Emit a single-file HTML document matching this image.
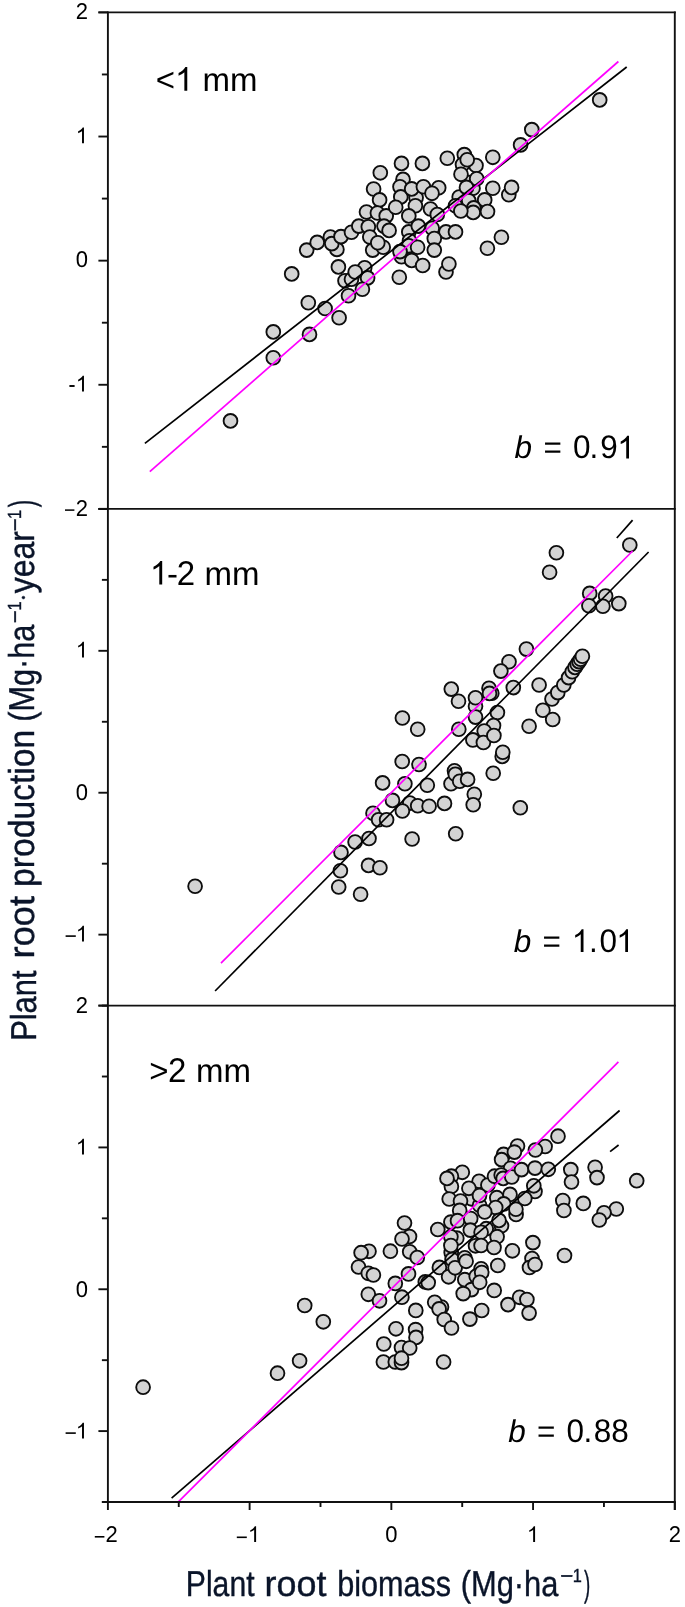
<!DOCTYPE html><html><head><meta charset="utf-8"><title>Plant root production vs biomass</title><style>html,body{margin:0;padding:0;background:#fff;}svg{display:block}text{font-family:"Liberation Sans",sans-serif}</style></head><body>
<svg style="will-change:transform" width="685" height="1607" viewBox="0 0 685 1607" text-rendering="geometricPrecision">
<g fill="#d3d3d3" stroke="#0d0d0d" stroke-width="1.85"><circle cx="459.2" cy="197.0" r="6.9"/><circle cx="473.0" cy="188.2" r="6.9"/><circle cx="469.5" cy="182.5" r="6.9"/><circle cx="599.7" cy="99.9" r="6.9"/><circle cx="531.8" cy="129.6" r="6.9"/><circle cx="520.6" cy="144.9" r="6.9"/><circle cx="492.8" cy="157.3" r="6.9"/><circle cx="447.3" cy="158.2" r="6.9"/><circle cx="464.3" cy="154.6" r="6.9"/><circle cx="476.0" cy="165.5" r="6.9"/><circle cx="462.5" cy="164.5" r="6.9"/><circle cx="467.2" cy="159.7" r="6.9"/><circle cx="461.0" cy="174.3" r="6.9"/><circle cx="476.7" cy="178.7" r="6.9"/><circle cx="438.7" cy="187.8" r="6.9"/><circle cx="466.5" cy="187.4" r="6.9"/><circle cx="492.8" cy="188.2" r="6.9"/><circle cx="508.8" cy="194.7" r="6.9"/><circle cx="511.6" cy="187.4" r="6.9"/><circle cx="468.7" cy="200.6" r="6.9"/><circle cx="484.7" cy="199.9" r="6.9"/><circle cx="455.5" cy="205.7" r="6.9"/><circle cx="487.5" cy="211.5" r="6.9"/><circle cx="473.8" cy="207.9" r="6.9"/><circle cx="430.5" cy="209.0" r="6.9"/><circle cx="380.3" cy="172.8" r="6.9"/><circle cx="401.5" cy="163.4" r="6.9"/><circle cx="422.4" cy="163.4" r="6.9"/><circle cx="373.6" cy="189.0" r="6.9"/><circle cx="379.6" cy="199.9" r="6.9"/><circle cx="366.5" cy="212.0" r="6.9"/><circle cx="377.4" cy="213.0" r="6.9"/><circle cx="386.2" cy="215.9" r="6.9"/><circle cx="403.0" cy="179.4" r="6.9"/><circle cx="400.0" cy="186.7" r="6.9"/><circle cx="400.8" cy="196.9" r="6.9"/><circle cx="416.1" cy="197.7" r="6.9"/><circle cx="411.7" cy="188.9" r="6.9"/><circle cx="395.7" cy="207.2" r="6.9"/><circle cx="415.4" cy="205.7" r="6.9"/><circle cx="423.4" cy="186.7" r="6.9"/><circle cx="432.0" cy="193.3" r="6.9"/><circle cx="437.3" cy="214.5" r="6.9"/><circle cx="408.8" cy="215.9" r="6.9"/><circle cx="291.7" cy="273.9" r="6.9"/><circle cx="306.7" cy="250.1" r="6.9"/><circle cx="317.2" cy="242.4" r="6.9"/><circle cx="330.4" cy="237.0" r="6.9"/><circle cx="336.9" cy="249.4" r="6.9"/><circle cx="331.8" cy="243.6" r="6.9"/><circle cx="341.0" cy="236.6" r="6.9"/><circle cx="351.5" cy="232.2" r="6.9"/><circle cx="358.8" cy="226.1" r="6.9"/><circle cx="368.3" cy="226.8" r="6.9"/><circle cx="369.8" cy="237.0" r="6.9"/><circle cx="372.7" cy="250.1" r="6.9"/><circle cx="338.4" cy="266.9" r="6.9"/><circle cx="364.7" cy="267.7" r="6.9"/><circle cx="367.6" cy="277.9" r="6.9"/><circle cx="345.0" cy="280.8" r="6.9"/><circle cx="351.5" cy="279.3" r="6.9"/><circle cx="355.2" cy="272.0" r="6.9"/><circle cx="362.4" cy="289.3" r="6.9"/><circle cx="384.0" cy="226.1" r="6.9"/><circle cx="389.1" cy="230.4" r="6.9"/><circle cx="383.2" cy="247.2" r="6.9"/><circle cx="377.8" cy="242.8" r="6.9"/><circle cx="408.8" cy="231.9" r="6.9"/><circle cx="418.3" cy="226.1" r="6.9"/><circle cx="432.2" cy="228.2" r="6.9"/><circle cx="446.0" cy="231.9" r="6.9"/><circle cx="455.5" cy="231.9" r="6.9"/><circle cx="434.3" cy="238.5" r="6.9"/><circle cx="434.3" cy="250.1" r="6.9"/><circle cx="409.5" cy="240.7" r="6.9"/><circle cx="408.8" cy="245.8" r="6.9"/><circle cx="417.6" cy="247.2" r="6.9"/><circle cx="401.5" cy="256.7" r="6.9"/><circle cx="400.0" cy="251.6" r="6.9"/><circle cx="411.7" cy="260.4" r="6.9"/><circle cx="422.7" cy="265.5" r="6.9"/><circle cx="446.0" cy="272.0" r="6.9"/><circle cx="448.9" cy="264.0" r="6.9"/><circle cx="399.3" cy="277.2" r="6.9"/><circle cx="473.2" cy="212.4" r="6.9"/><circle cx="460.8" cy="211.0" r="6.9"/><circle cx="501.4" cy="237.2" r="6.9"/><circle cx="487.4" cy="248.2" r="6.9"/><circle cx="230.5" cy="420.9" r="6.9"/><circle cx="273.3" cy="331.9" r="6.9"/><circle cx="273.3" cy="357.8" r="6.9"/><circle cx="308.3" cy="302.7" r="6.9"/><circle cx="309.5" cy="334.4" r="6.9"/><circle cx="325.1" cy="308.5" r="6.9"/><circle cx="339.1" cy="317.8" r="6.9"/><circle cx="348.5" cy="295.7" r="6.9"/><circle cx="556.4" cy="552.8" r="6.9"/><circle cx="549.6" cy="572.2" r="6.9"/><circle cx="629.8" cy="545.0" r="6.9"/><circle cx="589.7" cy="593.4" r="6.9"/><circle cx="605.6" cy="596.0" r="6.9"/><circle cx="588.9" cy="605.7" r="6.9"/><circle cx="602.9" cy="606.2" r="6.9"/><circle cx="618.8" cy="603.6" r="6.9"/><circle cx="526.4" cy="649.1" r="6.9"/><circle cx="509.0" cy="661.7" r="6.9"/><circle cx="500.9" cy="671.1" r="6.9"/><circle cx="491.8" cy="693.2" r="6.9"/><circle cx="513.3" cy="687.6" r="6.9"/><circle cx="539.1" cy="685.0" r="6.9"/><circle cx="497.4" cy="712.5" r="6.9"/><circle cx="493.5" cy="725.6" r="6.9"/><circle cx="529.1" cy="726.2" r="6.9"/><circle cx="542.9" cy="710.2" r="6.9"/><circle cx="552.7" cy="719.5" r="6.9"/><circle cx="552.0" cy="699.0" r="6.9"/><circle cx="557.8" cy="692.6" r="6.9"/><circle cx="563.8" cy="685.0" r="6.9"/><circle cx="568.6" cy="677.6" r="6.9"/><circle cx="572.2" cy="671.8" r="6.9"/><circle cx="575.0" cy="667.4" r="6.9"/><circle cx="577.2" cy="664.2" r="6.9"/><circle cx="579.0" cy="661.6" r="6.9"/><circle cx="580.6" cy="659.2" r="6.9"/><circle cx="582.4" cy="656.2" r="6.9"/><circle cx="402.4" cy="718.0" r="6.9"/><circle cx="417.7" cy="729.3" r="6.9"/><circle cx="451.3" cy="689.1" r="6.9"/><circle cx="458.5" cy="701.3" r="6.9"/><circle cx="475.5" cy="706.2" r="6.9"/><circle cx="475.5" cy="697.8" r="6.9"/><circle cx="475.5" cy="717.1" r="6.9"/><circle cx="489.0" cy="688.2" r="6.9"/><circle cx="489.5" cy="693.4" r="6.9"/><circle cx="458.8" cy="729.3" r="6.9"/><circle cx="472.9" cy="739.9" r="6.9"/><circle cx="484.2" cy="731.1" r="6.9"/><circle cx="483.4" cy="742.5" r="6.9"/><circle cx="493.9" cy="735.5" r="6.9"/><circle cx="502.2" cy="756.4" r="6.9"/><circle cx="502.8" cy="752.3" r="6.9"/><circle cx="402.2" cy="761.5" r="6.9"/><circle cx="419.0" cy="764.5" r="6.9"/><circle cx="382.6" cy="782.9" r="6.9"/><circle cx="404.9" cy="783.8" r="6.9"/><circle cx="427.3" cy="785.2" r="6.9"/><circle cx="451.0" cy="783.8" r="6.9"/><circle cx="454.5" cy="770.7" r="6.9"/><circle cx="455.3" cy="774.2" r="6.9"/><circle cx="459.7" cy="781.2" r="6.9"/><circle cx="467.6" cy="779.4" r="6.9"/><circle cx="474.3" cy="794.3" r="6.9"/><circle cx="473.2" cy="804.8" r="6.9"/><circle cx="493.2" cy="773.3" r="6.9"/><circle cx="520.3" cy="807.7" r="6.9"/><circle cx="392.5" cy="800.4" r="6.9"/><circle cx="409.8" cy="803.1" r="6.9"/><circle cx="417.7" cy="805.7" r="6.9"/><circle cx="429.1" cy="806.2" r="6.9"/><circle cx="444.5" cy="803.4" r="6.9"/><circle cx="402.4" cy="811.0" r="6.9"/><circle cx="412.1" cy="839.0" r="6.9"/><circle cx="455.7" cy="833.7" r="6.9"/><circle cx="373.0" cy="813.2" r="6.9"/><circle cx="378.6" cy="819.7" r="6.9"/><circle cx="386.6" cy="819.7" r="6.9"/><circle cx="369.0" cy="838.5" r="6.9"/><circle cx="355.1" cy="842.0" r="6.9"/><circle cx="341.0" cy="852.4" r="6.9"/><circle cx="340.4" cy="870.7" r="6.9"/><circle cx="368.5" cy="865.4" r="6.9"/><circle cx="379.9" cy="867.7" r="6.9"/><circle cx="338.7" cy="887.0" r="6.9"/><circle cx="360.6" cy="894.3" r="6.9"/><circle cx="195.1" cy="886.3" r="6.9"/><circle cx="441.5" cy="1307.0" r="6.9"/><circle cx="471.4" cy="1198.8" r="6.9"/><circle cx="479.6" cy="1205.3" r="6.9"/><circle cx="451.2" cy="1252.5" r="6.9"/><circle cx="481.3" cy="1188.6" r="6.9"/><circle cx="462.3" cy="1172.3" r="6.9"/><circle cx="451.4" cy="1176.2" r="6.9"/><circle cx="451.4" cy="1186.4" r="6.9"/><circle cx="447.0" cy="1178.4" r="6.9"/><circle cx="479.1" cy="1181.3" r="6.9"/><circle cx="468.9" cy="1188.3" r="6.9"/><circle cx="487.9" cy="1185.0" r="6.9"/><circle cx="494.5" cy="1176.2" r="6.9"/><circle cx="503.6" cy="1154.4" r="6.9"/><circle cx="501.6" cy="1159.6" r="6.9"/><circle cx="517.5" cy="1146.0" r="6.9"/><circle cx="514.4" cy="1152.1" r="6.9"/><circle cx="510.6" cy="1168.3" r="6.9"/><circle cx="501.2" cy="1175.0" r="6.9"/><circle cx="503.2" cy="1178.4" r="6.9"/><circle cx="511.8" cy="1177.0" r="6.9"/><circle cx="521.5" cy="1169.6" r="6.9"/><circle cx="449.2" cy="1199.0" r="6.9"/><circle cx="460.5" cy="1201.0" r="6.9"/><circle cx="479.5" cy="1195.5" r="6.9"/><circle cx="496.8" cy="1197.7" r="6.9"/><circle cx="510.0" cy="1194.4" r="6.9"/><circle cx="558.0" cy="1136.2" r="6.9"/><circle cx="545.1" cy="1146.5" r="6.9"/><circle cx="535.4" cy="1150.0" r="6.9"/><circle cx="535.0" cy="1168.1" r="6.9"/><circle cx="548.3" cy="1169.3" r="6.9"/><circle cx="535.0" cy="1191.5" r="6.9"/><circle cx="533.8" cy="1185.8" r="6.9"/><circle cx="570.8" cy="1169.6" r="6.9"/><circle cx="571.5" cy="1182.0" r="6.9"/><circle cx="595.1" cy="1167.3" r="6.9"/><circle cx="597.0" cy="1177.6" r="6.9"/><circle cx="562.8" cy="1200.5" r="6.9"/><circle cx="583.3" cy="1203.4" r="6.9"/><circle cx="524.8" cy="1198.5" r="6.9"/><circle cx="636.7" cy="1180.7" r="6.9"/><circle cx="616.3" cy="1209.0" r="6.9"/><circle cx="604.0" cy="1212.8" r="6.9"/><circle cx="599.3" cy="1220.0" r="6.9"/><circle cx="404.5" cy="1223.0" r="6.9"/><circle cx="409.5" cy="1236.5" r="6.9"/><circle cx="402.0" cy="1239.0" r="6.9"/><circle cx="409.7" cy="1251.8" r="6.9"/><circle cx="417.3" cy="1257.5" r="6.9"/><circle cx="390.4" cy="1251.2" r="6.9"/><circle cx="369.0" cy="1251.3" r="6.9"/><circle cx="361.1" cy="1252.7" r="6.9"/><circle cx="437.8" cy="1229.5" r="6.9"/><circle cx="459.7" cy="1210.4" r="6.9"/><circle cx="450.9" cy="1222.1" r="6.9"/><circle cx="457.5" cy="1220.7" r="6.9"/><circle cx="470.7" cy="1218.5" r="6.9"/><circle cx="470.3" cy="1230.1" r="6.9"/><circle cx="456.8" cy="1238.2" r="6.9"/><circle cx="450.9" cy="1236.7" r="6.9"/><circle cx="450.9" cy="1245.5" r="6.9"/><circle cx="452.1" cy="1259.5" r="6.9"/><circle cx="464.8" cy="1257.8" r="6.9"/><circle cx="439.4" cy="1267.4" r="6.9"/><circle cx="408.5" cy="1273.9" r="6.9"/><circle cx="475.5" cy="1245.8" r="6.9"/><circle cx="358.5" cy="1267.0" r="6.9"/><circle cx="368.3" cy="1273.3" r="6.9"/><circle cx="373.4" cy="1275.0" r="6.9"/><circle cx="368.3" cy="1294.3" r="6.9"/><circle cx="379.5" cy="1300.8" r="6.9"/><circle cx="304.7" cy="1305.5" r="6.9"/><circle cx="323.3" cy="1321.8" r="6.9"/><circle cx="503.7" cy="1203.9" r="6.9"/><circle cx="495.7" cy="1207.5" r="6.9"/><circle cx="484.7" cy="1211.9" r="6.9"/><circle cx="501.5" cy="1225.8" r="6.9"/><circle cx="499.0" cy="1220.4" r="6.9"/><circle cx="486.2" cy="1228.7" r="6.9"/><circle cx="481.1" cy="1232.3" r="6.9"/><circle cx="497.1" cy="1236.7" r="6.9"/><circle cx="481.1" cy="1245.5" r="6.9"/><circle cx="494.0" cy="1247.5" r="6.9"/><circle cx="512.4" cy="1250.8" r="6.9"/><circle cx="532.9" cy="1242.6" r="6.9"/><circle cx="532.0" cy="1258.5" r="6.9"/><circle cx="529.5" cy="1267.5" r="6.9"/><circle cx="497.8" cy="1265.5" r="6.9"/><circle cx="481.1" cy="1268.8" r="6.9"/><circle cx="563.9" cy="1210.5" r="6.9"/><circle cx="564.5" cy="1255.5" r="6.9"/><circle cx="395.3" cy="1283.4" r="6.9"/><circle cx="401.9" cy="1297.2" r="6.9"/><circle cx="415.8" cy="1310.4" r="6.9"/><circle cx="425.3" cy="1281.9" r="6.9"/><circle cx="428.2" cy="1282.6" r="6.9"/><circle cx="448.6" cy="1276.8" r="6.9"/><circle cx="455.1" cy="1267.8" r="6.9"/><circle cx="464.8" cy="1279.7" r="6.9"/><circle cx="471.5" cy="1289.6" r="6.9"/><circle cx="463.2" cy="1293.6" r="6.9"/><circle cx="476.2" cy="1276.2" r="6.9"/><circle cx="434.7" cy="1302.3" r="6.9"/><circle cx="439.1" cy="1308.9" r="6.9"/><circle cx="444.2" cy="1319.5" r="6.9"/><circle cx="451.5" cy="1328.0" r="6.9"/><circle cx="469.9" cy="1319.1" r="6.9"/><circle cx="396.0" cy="1328.8" r="6.9"/><circle cx="415.6" cy="1329.6" r="6.9"/><circle cx="416.0" cy="1337.4" r="6.9"/><circle cx="481.7" cy="1272.5" r="6.9"/><circle cx="494.2" cy="1290.4" r="6.9"/><circle cx="519.6" cy="1297.3" r="6.9"/><circle cx="526.9" cy="1299.5" r="6.9"/><circle cx="508.0" cy="1304.6" r="6.9"/><circle cx="529.1" cy="1313.1" r="6.9"/><circle cx="481.7" cy="1310.5" r="6.9"/><circle cx="299.6" cy="1360.8" r="6.9"/><circle cx="277.5" cy="1373.2" r="6.9"/><circle cx="383.8" cy="1344.0" r="6.9"/><circle cx="401.5" cy="1347.5" r="6.9"/><circle cx="409.7" cy="1348.0" r="6.9"/><circle cx="383.4" cy="1362.0" r="6.9"/><circle cx="395.3" cy="1362.0" r="6.9"/><circle cx="401.5" cy="1362.6" r="6.9"/><circle cx="401.5" cy="1358.2" r="6.9"/><circle cx="443.6" cy="1362.0" r="6.9"/><circle cx="143.1" cy="1387.2" r="6.9"/><circle cx="466.1" cy="1261.3" r="6.9"/><circle cx="479.7" cy="1282.3" r="6.9"/><circle cx="535.0" cy="1264.5" r="6.9"/><circle cx="516.1" cy="1214.5" r="6.9"/><circle cx="515.9" cy="1209.2" r="6.9"/></g>
<line x1="144.9" y1="443.4" x2="626.7" y2="67.0" stroke="#000" stroke-width="1.7"/>
<line x1="149.8" y1="471.6" x2="618.4" y2="61.5" stroke="#ff00ff" stroke-width="1.7"/>
<line x1="215.1" y1="991.0" x2="648.6" y2="552.0" stroke="#000" stroke-width="1.7"/>
<line x1="616.8" y1="538.0" x2="632.6" y2="520.1" stroke="#000" stroke-width="1.7"/>
<line x1="221.0" y1="963.2" x2="632.6" y2="551.0" stroke="#ff00ff" stroke-width="1.7"/>
<line x1="171.6" y1="1498.1" x2="619.6" y2="1110.5" stroke="#000" stroke-width="1.7"/>
<line x1="610.1" y1="1151.7" x2="618.6" y2="1145.0" stroke="#000" stroke-width="1.7"/>
<line x1="178.6" y1="1501.6" x2="618.4" y2="1061.9" stroke="#ff00ff" stroke-width="1.7"/>
<g stroke="#111" stroke-width="1.9" fill="none">
<line x1="107.9" y1="11.450000000000001" x2="107.9" y2="1502.95"/>
<line x1="674.8" y1="11.450000000000001" x2="674.8" y2="1510.0"/>
<line x1="98.4" y1="12.4" x2="675.75" y2="12.4"/>
<line x1="98.4" y1="508.9" x2="675.75" y2="508.9"/>
<line x1="98.4" y1="1005.6" x2="675.75" y2="1005.6"/>
<line x1="101.9" y1="1502.0" x2="675.75" y2="1502.0"/>
<line x1="98.4" y1="12.40" x2="107.9" y2="12.40"/>
<line x1="101.9" y1="74.46" x2="107.9" y2="74.46"/>
<line x1="98.4" y1="136.53" x2="107.9" y2="136.53"/>
<line x1="101.9" y1="198.59" x2="107.9" y2="198.59"/>
<line x1="98.4" y1="260.65" x2="107.9" y2="260.65"/>
<line x1="101.9" y1="322.71" x2="107.9" y2="322.71"/>
<line x1="98.4" y1="384.77" x2="107.9" y2="384.77"/>
<line x1="101.9" y1="446.84" x2="107.9" y2="446.84"/>
<line x1="98.4" y1="508.90" x2="107.9" y2="508.90"/>
<line x1="98.4" y1="508.90" x2="107.9" y2="508.90"/>
<line x1="101.9" y1="579.86" x2="107.9" y2="579.86"/>
<line x1="98.4" y1="650.81" x2="107.9" y2="650.81"/>
<line x1="101.9" y1="721.77" x2="107.9" y2="721.77"/>
<line x1="98.4" y1="792.73" x2="107.9" y2="792.73"/>
<line x1="101.9" y1="863.69" x2="107.9" y2="863.69"/>
<line x1="98.4" y1="934.64" x2="107.9" y2="934.64"/>
<line x1="101.9" y1="1005.60" x2="107.9" y2="1005.60"/>
<line x1="98.4" y1="1005.60" x2="107.9" y2="1005.60"/>
<line x1="101.9" y1="1076.51" x2="107.9" y2="1076.51"/>
<line x1="98.4" y1="1147.43" x2="107.9" y2="1147.43"/>
<line x1="101.9" y1="1218.34" x2="107.9" y2="1218.34"/>
<line x1="98.4" y1="1289.26" x2="107.9" y2="1289.26"/>
<line x1="101.9" y1="1360.17" x2="107.9" y2="1360.17"/>
<line x1="98.4" y1="1431.09" x2="107.9" y2="1431.09"/>
<line x1="101.9" y1="1502.00" x2="107.9" y2="1502.00"/>
<line x1="107.90" y1="1502.0" x2="107.90" y2="1510.0"/>
<line x1="178.76" y1="1502.0" x2="178.76" y2="1507.0"/>
<line x1="249.62" y1="1502.0" x2="249.62" y2="1510.0"/>
<line x1="320.49" y1="1502.0" x2="320.49" y2="1507.0"/>
<line x1="391.35" y1="1502.0" x2="391.35" y2="1510.0"/>
<line x1="462.21" y1="1502.0" x2="462.21" y2="1507.0"/>
<line x1="533.07" y1="1502.0" x2="533.07" y2="1510.0"/>
<line x1="603.94" y1="1502.0" x2="603.94" y2="1507.0"/>
<line x1="674.80" y1="1502.0" x2="674.80" y2="1510.0"/>
</g>
<g fill="#000">
<text transform="translate(75.76,19.10) scale(1,1.04)" font-size="22">2</text>
<path transform="translate(75.76,143.20) scale(0.01074,-0.01074)" d="M763 0L583 0L583 1147Q518 1085 412.5 1023Q307 961 223 930L223 1104Q374 1175 487 1276Q600 1377 647 1472L763 1472Z"/>
<text transform="translate(75.76,267.35) scale(1,1.04)" font-size="22">0</text>
<path transform="translate(75.76,391.50) scale(0.01074,-0.01074)" d="M763 0L583 0L583 1147Q518 1085 412.5 1023Q307 961 223 930L223 1104Q374 1175 487 1276Q600 1377 647 1472L763 1472Z"/>
<rect x="69.4" y="385.05" width="5.199999999999989" height="1.9"/>
<text transform="translate(75.76,515.60) scale(1,1.04)" font-size="22">2</text>
<rect x="65.0" y="509.35" width="9.400000000000006" height="1.5"/>
<path transform="translate(75.76,657.60) scale(0.01074,-0.01074)" d="M763 0L583 0L583 1147Q518 1085 412.5 1023Q307 961 223 930L223 1104Q374 1175 487 1276Q600 1377 647 1472L763 1472Z"/>
<text transform="translate(75.76,799.60) scale(1,1.04)" font-size="22">0</text>
<path transform="translate(75.76,941.60) scale(0.01074,-0.01074)" d="M763 0L583 0L583 1147Q518 1085 412.5 1023Q307 961 223 930L223 1104Q374 1175 487 1276Q600 1377 647 1472L763 1472Z"/>
<rect x="65.6" y="935.30" width="10.200000000000003" height="1.6"/>
<text transform="translate(75.76,1012.60) scale(1,1.04)" font-size="22">2</text>
<path transform="translate(75.76,1154.60) scale(0.01074,-0.01074)" d="M763 0L583 0L583 1147Q518 1085 412.5 1023Q307 961 223 930L223 1104Q374 1175 487 1276Q600 1377 647 1472L763 1472Z"/>
<text transform="translate(75.76,1296.60) scale(1,1.04)" font-size="22">0</text>
<path transform="translate(75.76,1438.60) scale(0.01074,-0.01074)" d="M763 0L583 0L583 1147Q518 1085 412.5 1023Q307 961 223 930L223 1104Q374 1175 487 1276Q600 1377 647 1472L763 1472Z"/>
<rect x="65.6" y="1432.30" width="10.200000000000003" height="1.6"/>
<text transform="translate(385.23,1542.10) scale(1,1.04)" font-size="22">0</text>
<text transform="translate(668.68,1542.10) scale(1,1.04)" font-size="22">2</text>
<path transform="translate(526.88,1542.10) scale(0.01074,-0.01074)" d="M763 0L583 0L583 1147Q518 1085 412.5 1023Q307 961 223 930L223 1104Q374 1175 487 1276Q600 1377 647 1472L763 1472Z"/>
<text transform="translate(105.60,1542.10) scale(1,1.04)" font-size="22">2</text>
<rect x="94.8" y="1536.00" width="9.6" height="1.6"/>
<path transform="translate(247.90,1542.10) scale(0.01074,-0.01074)" d="M763 0L583 0L583 1147Q518 1085 412.5 1023Q307 961 223 930L223 1104Q374 1175 487 1276Q600 1377 647 1472L763 1472Z"/>
<rect x="236.8" y="1536.50" width="10.0" height="1.6"/>
</g>
<g fill="#000">
<text transform="translate(155.70,90.70) scale(1,1.0)" font-size="33">&lt;</text>
<path transform="translate(174.97,90.70) scale(0.01611,-0.01611)" d="M763 0L583 0L583 1147Q518 1085 412.5 1023Q307 961 223 930L223 1104Q374 1175 487 1276Q600 1377 647 1472L763 1472Z"/>
<text x="202.49" y="90.7" font-size="33">mm</text>
<path transform="translate(149.90,584.60) scale(0.01611,-0.01611)" d="M763 0L583 0L583 1147Q518 1085 412.5 1023Q307 961 223 930L223 1104Q374 1175 487 1276Q600 1377 647 1472L763 1472Z"/>
<text transform="translate(167.00,584.60) scale(1,1.0)" font-size="33">-</text>
<text transform="translate(176.70,584.60) scale(1,1.04)" font-size="33">2</text>
<text x="204.4" y="584.6" font-size="33">mm</text>
<text transform="translate(149.20,1082.10) scale(1,1.0)" font-size="33">&gt;</text>
<text transform="translate(168.10,1082.10) scale(1,1.04)" font-size="33">2</text>
<text x="196.0" y="1082.1" font-size="33">mm</text>
<text transform="translate(514.45,458.40) scale(1,1.0)" font-size="31.5" font-style="italic">b</text>
<text transform="translate(543.56,458.40) scale(1,1.0)" font-size="31.5">=</text>
<text transform="translate(572.97,458.40) scale(1,1.04)" font-size="31.5">0</text>
<text transform="translate(589.62,458.40) scale(1,1.04)" font-size="31.5">.</text>
<text transform="translate(600.32,458.40) scale(1,1.04)" font-size="31.5">9</text>
<path transform="translate(617.27,458.40) scale(0.01538,-0.01538)" d="M763 0L583 0L583 1147Q518 1085 412.5 1023Q307 961 223 930L223 1104Q374 1175 487 1276Q600 1377 647 1472L763 1472Z"/>
<text transform="translate(513.75,952.00) scale(1,1.0)" font-size="31.5" font-style="italic">b</text>
<text transform="translate(542.56,952.00) scale(1,1.0)" font-size="31.5">=</text>
<path transform="translate(571.77,952.00) scale(0.01538,-0.01538)" d="M763 0L583 0L583 1147Q518 1085 412.5 1023Q307 961 223 930L223 1104Q374 1175 487 1276Q600 1377 647 1472L763 1472Z"/>
<text transform="translate(589.02,952.00) scale(1,1.04)" font-size="31.5">.</text>
<text transform="translate(599.57,952.00) scale(1,1.04)" font-size="31.5">0</text>
<path transform="translate(616.27,952.00) scale(0.01538,-0.01538)" d="M763 0L583 0L583 1147Q518 1085 412.5 1023Q307 961 223 930L223 1104Q374 1175 487 1276Q600 1377 647 1472L763 1472Z"/>
<text transform="translate(508.25,1442.40) scale(1,1.0)" font-size="31.5" font-style="italic">b</text>
<text transform="translate(536.96,1442.40) scale(1,1.0)" font-size="31.5">=</text>
<text transform="translate(566.47,1442.40) scale(1,1.04)" font-size="31.5">0</text>
<text transform="translate(583.52,1442.40) scale(1,1.04)" font-size="31.5">.</text>
<text transform="translate(593.83,1442.40) scale(1,1.04)" font-size="31.5">8</text>
<text transform="translate(611.23,1442.40) scale(1,1.04)" font-size="31.5">8</text>
</g>
<g fill="#0a1429" stroke="#0a1429" stroke-width="0.4">
<text x="185.83" y="1595.6" font-size="36" textLength="68.69" lengthAdjust="spacingAndGlyphs">Plant</text>
<text x="264.52" y="1595.6" font-size="36" textLength="61.85" lengthAdjust="spacingAndGlyphs">root</text>
<text x="337.23" y="1595.6" font-size="36" textLength="113.88" lengthAdjust="spacingAndGlyphs">biomass</text>
<text x="460.79" y="1595.6" font-size="36" textLength="97.61" lengthAdjust="spacingAndGlyphs">(Mg·ha</text>
<text x="583.89" y="1595.6" font-size="36" textLength="6.28" lengthAdjust="spacingAndGlyphs">)</text>
<rect x="561.3" y="1575.2" width="11.0" height="1.6"/>
<text transform="translate(572.66,1581.9) scale(0.86,1)" font-size="19">1</text>
<text transform="translate(36.1,0) rotate(-90)" x="-1040.83" y="0" font-size="36" textLength="70.36" lengthAdjust="spacingAndGlyphs">Plant</text>
<text transform="translate(34.3,0) rotate(-90)" x="-958.40" y="0" font-size="36" textLength="62.37" lengthAdjust="spacingAndGlyphs">root</text>
<text transform="translate(34.3,0) rotate(-90)" x="-886.97" y="0" font-size="36" textLength="157.15" lengthAdjust="spacingAndGlyphs">production</text>
<text transform="translate(34.3,0) rotate(-90)" x="-721.80" y="0" font-size="36" textLength="97.10" lengthAdjust="spacingAndGlyphs">(Mg·ha</text>
<text transform="translate(34.3,0) rotate(-90)" x="-593.28" y="0" font-size="36" textLength="62.11" lengthAdjust="spacingAndGlyphs">year</text>
<text transform="translate(34.3,0) rotate(-90)" x="-507.33" y="0" font-size="36" textLength="7.41" lengthAdjust="spacingAndGlyphs">)</text>
<circle cx="23.4" cy="597.6" r="1.45"/>
<rect x="14.3" y="611.60" width="1.6" height="10.50"/>
<text transform="translate(20.5,610.54) rotate(-90) scale(0.86,1)" font-size="19">1</text>
<rect x="14.3" y="519.70" width="1.6" height="10.50"/>
<text transform="translate(20.5,519.04) rotate(-90) scale(0.86,1)" font-size="19">1</text>
</g>
</svg></body></html>
